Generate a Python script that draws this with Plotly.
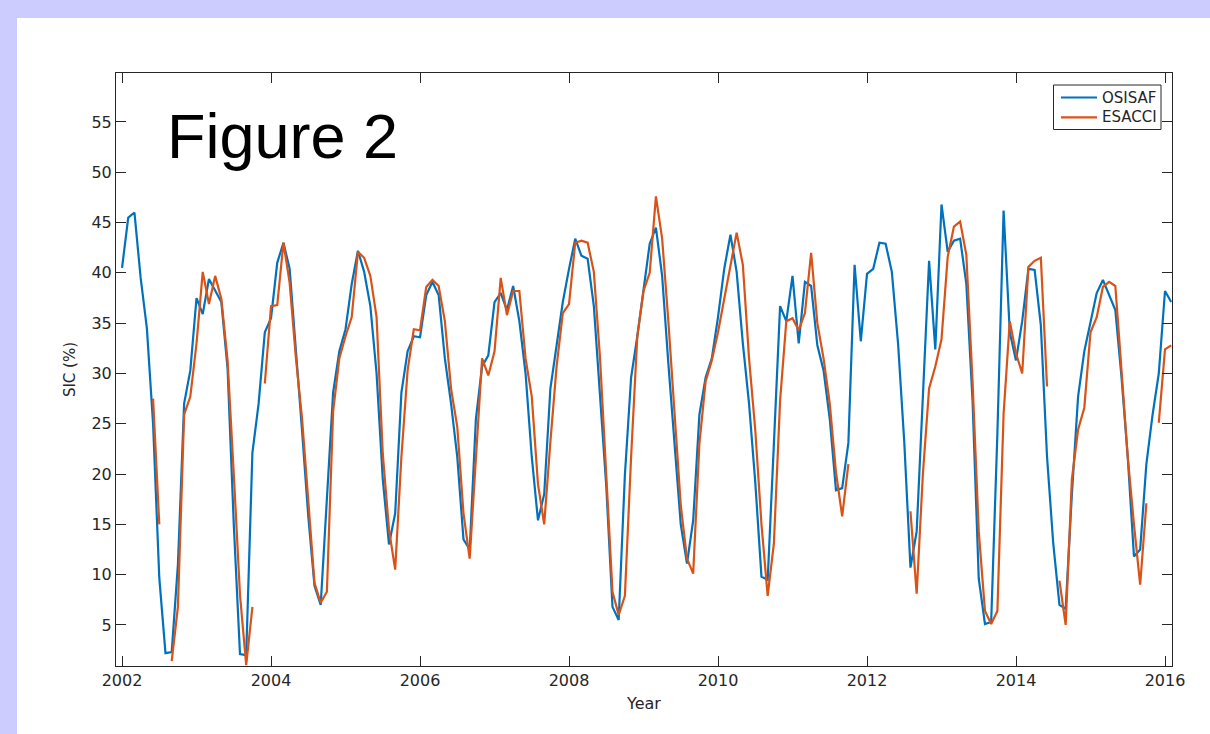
import plotly.graph_objects as go

# Monthly series, Jan 2002 .. Feb 2016
start_year = 2002
osisaf = [40.5, 45.5, 46.0, 39.5, 34.5, 25.0, 9.7, 2.2, 2.3, 11.0, 27.0, 30.3,
          37.5, 35.9, 39.4, 38.2, 37.1, 30.5, 15.0, 2.1, 2.0, 22.1, 27.0, 34.1,
          35.5, 41.0, 43.0, 40.4, 32.8, 24.3, 15.8, 8.9, 7.0, 17.6, 28.1, 32.2,
          34.4, 38.9, 42.2, 40.1, 36.7, 30.0, 19.5, 13.0, 16.1, 28.1, 32.2, 33.7,
          33.6, 37.8, 39.1, 37.8, 31.5, 27.0, 21.7, 13.5, 12.5, 25.5, 30.7, 31.8,
          37.1, 38.0, 36.3, 38.7, 35.2, 30.0, 21.7, 15.4, 18.0, 28.5, 33.0, 37.1,
          40.4, 43.4, 41.7, 41.4, 36.7, 28.1, 18.8, 6.8, 5.5, 19.9, 29.6, 33.7,
          38.4, 42.9, 44.5, 39.7, 31.0, 23.2, 15.0, 11.1, 15.4, 25.9, 29.6, 31.5,
          35.6, 40.4, 43.8, 40.1, 33.0, 27.0, 19.2, 9.8, 9.5, 23.0, 36.7, 35.2,
          39.7, 33.0, 39.1, 38.7, 32.8, 30.3, 25.5, 18.4, 18.6, 23.1, 40.8, 33.2,
          39.9, 40.4, 43.0, 42.9, 40.1, 33.0, 23.2, 10.7, 14.3, 27.7, 41.2, 32.4,
          46.8, 42.1, 43.2, 43.4, 38.9, 27.3, 9.6, 5.1, 5.3, 24.0, 46.2, 34.1,
          31.3, 35.2, 40.4, 40.3, 34.8, 21.7, 13.1, 7.0, 6.6, 18.0, 27.7, 32.2,
          35.2, 38.0, 39.3, 37.8, 36.3, 29.6, 21.7, 11.8, 12.5, 21.0, 25.9, 30.0,
          38.2, 37.1]

N = None
esacci = [N, N, N, N, N, 27.5, 15.0, N, 1.4, 6.8, 25.9, 27.7,
          33.0, 40.1, 36.9, 39.7, 37.4, 31.3, 20.0, 8.0, 1.0, 6.8, N, 29.0,
          36.7, 36.8, 43.0, 39.0, 31.6, 25.5, 17.3, 9.2, 7.2, 8.3, 26.2, 31.5,
          33.7, 35.6, 42.1, 41.5, 39.7, 35.6, 22.0, 14.5, 10.5, 21.7, 30.3, 34.4,
          34.3, 38.6, 39.3, 38.7, 35.2, 28.5, 24.7, 16.1, 11.6, 21.7, 31.5, 29.8,
          32.2, 39.5, 35.8, 38.2, 38.2, 31.5, 27.7, 19.0, 15.0, 23.2, 30.7, 36.0,
          36.9, 43.0, 43.2, 43.0, 40.1, 31.5, 20.2, 8.3, 6.0, 7.9, 21.7, 33.7,
          38.2, 40.0, 47.6, 43.4, 35.2, 25.5, 16.9, 11.6, 10.1, 23.0, 29.2, 31.3,
          34.1, 37.4, 40.8, 44.0, 40.8, 31.5, 24.4, 15.0, 7.9, 13.1, 27.3, 35.2,
          35.5, 34.3, 36.0, 42.0, 35.0, 31.5, 27.0, 20.2, 15.8, 21.0, N, N,
          N, N, N, N, N, N, N, 16.3, 8.1, 20.0, 28.5, 30.7,
          33.4, 41.6, 44.6, 45.1, 41.8, 29.2, 14.3, 6.4, 5.1, 6.4, 26.0, 35.2,
          32.0, 30.0, 40.6, 41.2, 41.5, 28.7, N, 9.4, 5.0, 19.5, 24.4, 26.6,
          34.1, 35.6, 38.6, 39.1, 38.7, 30.3, 21.7, 15.0, 9.0, 17.1, N, 25.1,
          32.4, 32.8]

series_names = ["OSISAF", "ESACCI"]
series_colors = ["#0072BD", "#D95319"]

months = [(start_year + i // 12, i % 12 + 1) for i in range(len(osisaf))]
years = [y + (m - 1) / 12 for y, m in months]

x_ticks = [2002, 2004, 2006, 2008, 2010, 2012, 2014, 2016]
y_ticks = [5, 10, 15, 20, 25, 30, 35, 40, 45, 50, 55]

AX = "#262626"
FONT = "DejaVu Sans"

fig = go.Figure()
for name, vals, col in zip(series_names, [osisaf, esacci], series_colors):
    fig.add_trace(go.Scatter(x=years, y=vals, mode="lines", name=name,
                             line=dict(color=col, width=2.2), connectgaps=False,
                             showlegend=False))

L, R, T, B = 116, 38, 73, 68
W, H = 1210, 734
pw, ph = W - L - R, H - T - B

def px(xp):
    return (xp - L) / pw

def py(yp):
    return (H - B - yp) / ph

# white panel over lavender page
fig.add_shape(type="rect", xref="paper", yref="paper",
              x0=px(17), x1=px(1212), y0=py(18), y1=py(736),
              fillcolor="white", line=dict(width=0), layer="below")

# legend box (drawn manually, MATLAB style)
fig.add_shape(type="rect", xref="paper", yref="paper",
              x0=px(1053.5), x1=px(1161), y0=py(85), y1=py(129.5),
              fillcolor="white", line=dict(color=AX, width=1), layer="above")
for i, (name, col) in enumerate(zip(series_names, series_colors)):
    yy = 97.5 + i * 19.8
    fig.add_shape(type="line", xref="paper", yref="paper",
                  x0=px(1061), x1=px(1097), y0=py(yy), y1=py(yy),
                  line=dict(color=col, width=2.2), layer="above")
    fig.add_annotation(text=name, xref="paper", yref="paper",
                       x=px(1100), y=py(yy), xanchor="left", yanchor="middle",
                       showarrow=False,
                       font=dict(family=FONT, size=15, color=AX))

fig.add_annotation(text="Figure 2", xref="paper", yref="paper",
                   x=px(165), y=py(136), xanchor="left", yanchor="middle",
                   showarrow=False,
                   font=dict(family="Liberation Sans, Arial", size=63, color="black"))

fig.update_layout(
    width=W, height=H,
    margin=dict(l=L, r=R, t=T, b=B),
    paper_bgcolor="#ccccff",
    plot_bgcolor="white",
    font=dict(family=FONT, size=16, color=AX),
    showlegend=False,
    xaxis=dict(range=[2001.919, 2016.094], tickvals=x_ticks,
               ticktext=[str(v) for v in x_ticks],
               ticks="inside", ticklen=10, tickcolor=AX, tickwidth=1,
               showline=True, linecolor=AX, linewidth=1, mirror="ticks",
               showgrid=False, zeroline=False,
               title=dict(text="Year", font=dict(family=FONT, size=16, color=AX), standoff=8),
               tickfont=dict(family=FONT, size=16, color=AX)),
    yaxis=dict(range=[0.92, 59.87], tickvals=y_ticks,
               ticks="inside", ticklen=10, tickcolor=AX, tickwidth=1,
               showline=True, linecolor=AX, linewidth=1, mirror="ticks",
               showgrid=False, zeroline=False,
               title=dict(text="SIC (%)", font=dict(family=FONT, size=15, color=AX), standoff=12),
               tickfont=dict(family=FONT, size=16, color=AX)),
)

fig.write_html("out.html", config={"displayModeBar": False},
               post_script="document.body.style.margin='0px';document.body.style.overflow='hidden';")
